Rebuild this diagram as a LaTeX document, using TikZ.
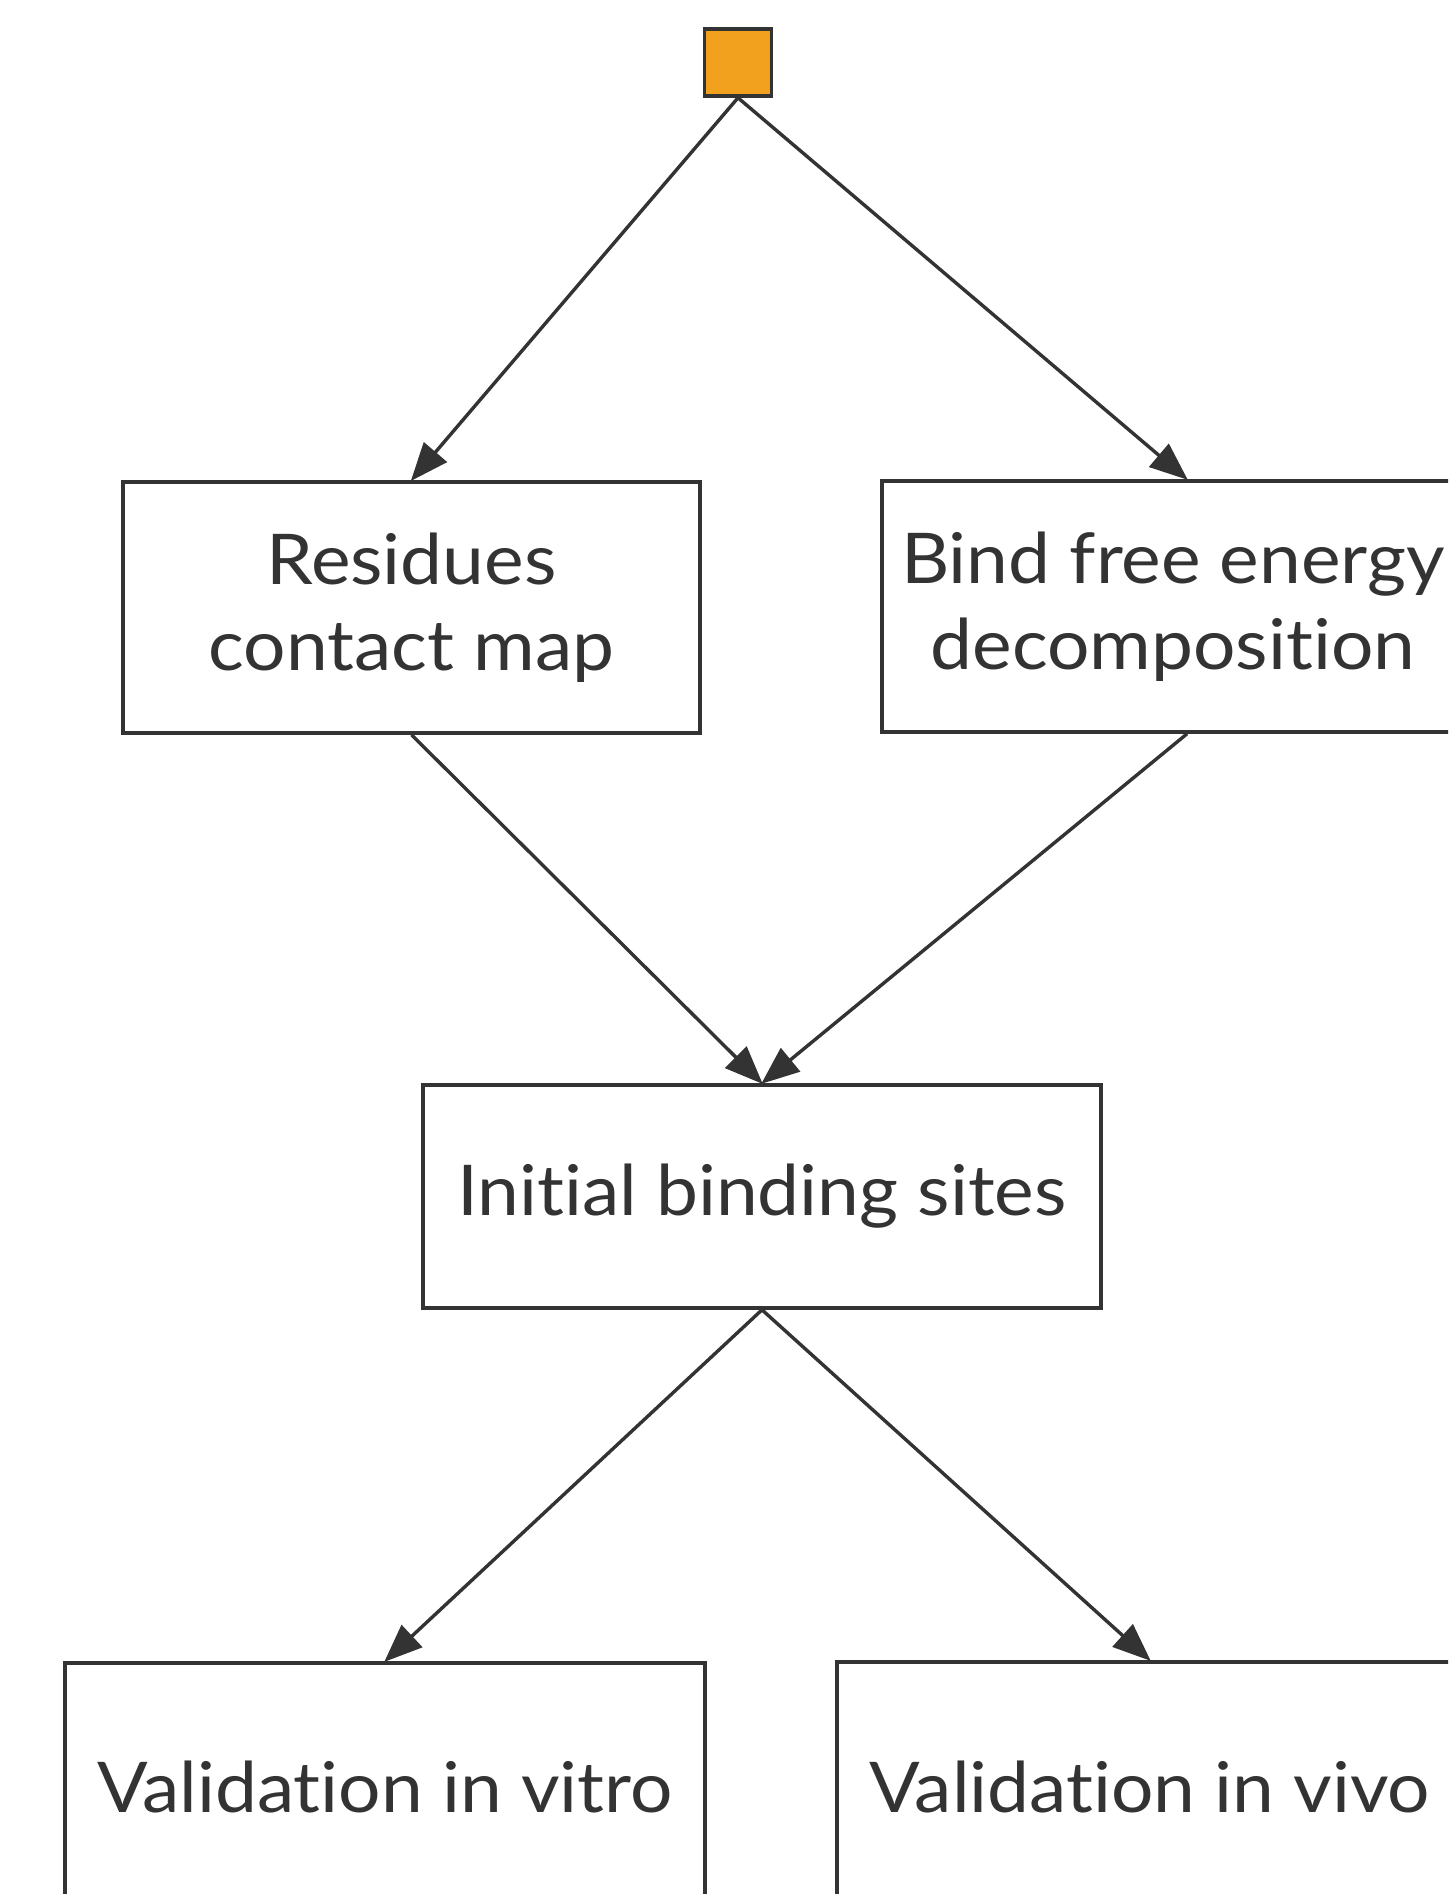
\documentclass[tikz,border=0pt]{standalone}
\usepackage{fontspec}
\setmainfont{Lato}[Ligatures={NoCommon,NoRare},FakeStretch=1.07]
\usetikzlibrary{arrows.meta}
\definecolor{ink}{HTML}{333333}
\definecolor{startfill}{HTML}{F2A11E}
\begin{document}
\begin{tikzpicture}[x=1pt,y=-1pt,
  box/.style={draw=ink,line width=3.6pt,fill=white,inner sep=0pt,align=center,
    text=ink,font=\fontsize{70}{86}\selectfont},
  label text/.style={inner sep=0pt,align=center,text=ink,font=\fontsize{70}{86}\selectfont},
  startnode/.style={draw=ink,line width=3.6pt,fill=startfill,minimum width=67pt,minimum height=67pt,inner sep=0pt},
  conn/.style={draw=ink,line width=3.4pt,-{Triangle[length=38pt,width=30pt]},shorten >=-1pt}]
\useasboundingbox (0,0) rectangle (1448,1894);
\clip (0,0) rectangle (1448,1894);
\node[startnode] (start) at (738,62.5) {};
\node[box,minimum width=577pt,minimum height=251pt] (contact) at (411.5,607.5) {Residues\\contact map};
\node[box,minimum width=610pt,minimum height=251pt] (energy) at (1187,606.5) {};
\node[label text] (energytext) at (1173,606.5) {Bind free energy\\decomposition};
\node[box,minimum width=678pt,minimum height=223pt] (sites) at (762,1196.5) {Initial binding sites};
\node[box,minimum width=640pt,minimum height=248pt] (vitro) at (385,1787) {Validation in vitro};
\node[box,minimum width=626pt,minimum height=250pt] (vivo) at (1150,1787) {Validation in vivo};
\draw[conn] (start.south) -- (contact.north);
\draw[conn] (start.south) -- (energy.north);
\draw[conn] (contact.south) -- (sites.north);
\draw[conn] (energy.south) -- (sites.north);
\draw[conn] (sites.south) -- (vitro.north);
\draw[conn] (sites.south) -- (vivo.north);
\end{tikzpicture}
\end{document}
